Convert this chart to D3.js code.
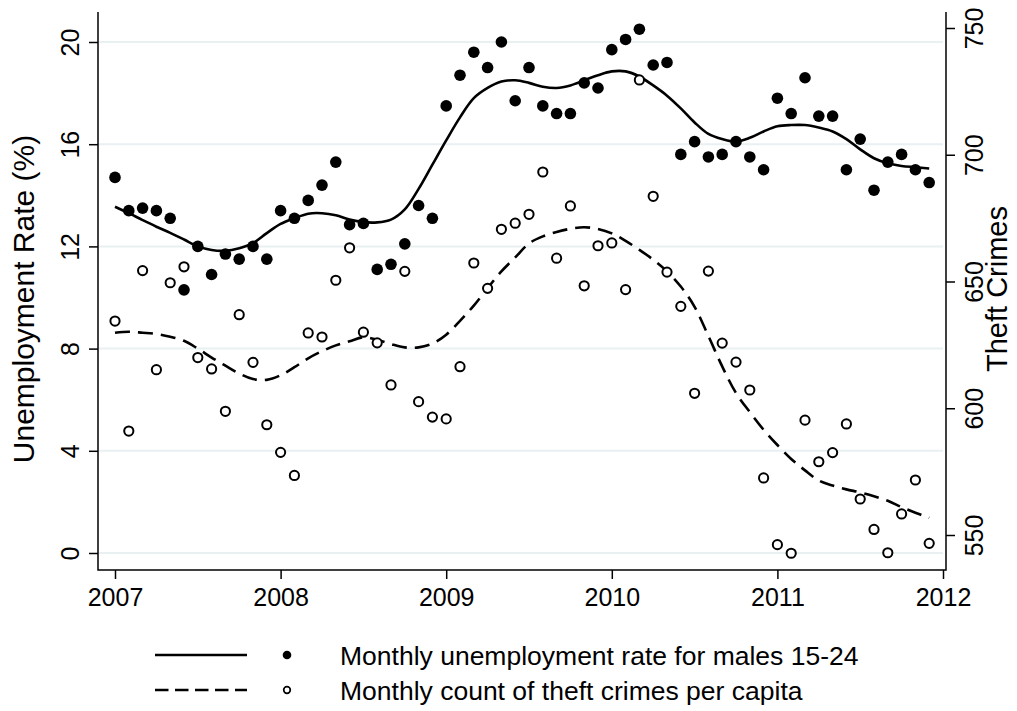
<!DOCTYPE html>
<html>
<head>
<meta charset="utf-8">
<script src="https://cdn.jsdelivr.net/npm/d3@7"></script>
<style>
  body { margin: 0; background: #fff; }
  svg { font-family: 'Liberation Sans', Arial, Helvetica, sans-serif; }
</style>
</head>
<body>
<svg id="chart" width="1017" height="711"></svg>
<script>
// data (monthly, Jan 2007 - Dec 2011)
const years = [2007, 2008, 2009, 2010, 2011]
const xTicks = [2007, 2008, 2009, 2010, 2011, 2012]
const leftTicks = [0, 4, 8, 12, 16, 20]
const rightTicks = [550, 600, 650, 700, 750]

const unempRate = [
  14.7, 13.4, 13.5, 13.4, 13.1, 10.3, 12.0, 10.9, 11.7, 11.5, 12.0, 11.5,
  13.4, 13.1, 13.8, 14.4, 15.3, 12.85, 12.9, 11.1, 11.3, 12.1, 13.6, 13.1,
  17.5, 18.7, 19.6, 19.0, 20.0, 17.7, 19.0, 17.5, 17.2, 17.2, 18.4, 18.2,
  19.7, 20.1, 20.5, 19.1, 19.2, 15.6, 16.1, 15.5, 15.6, 16.1, 15.5, 15.0,
  17.8, 17.2, 18.6, 17.1, 17.1, 15.0, 16.2, 14.2, 15.3, 15.6, 15.0, 14.5
]
const unempSmooth = [
  13.55, 13.3, 13.03, 12.77, 12.53, 12.27, 12.0, 11.86, 11.83, 11.93, 12.13, 12.52,
  12.88, 13.1, 13.28, 13.3, 13.22, 13.05, 12.95, 12.94, 13.05, 13.45, 14.25, 15.2,
  16.15, 17.05, 17.8, 18.2, 18.45, 18.5, 18.4, 18.25, 18.2, 18.3, 18.5, 18.7,
  18.85, 18.85, 18.65, 18.3, 17.9, 17.4, 16.85, 16.4, 16.2, 16.1, 16.25, 16.5,
  16.7, 16.75, 16.75, 16.65, 16.5, 16.2, 15.8, 15.45, 15.25, 15.15, 15.1, 15.05
]
const theftCount = [
  634.4, 591.0, 654.3, 615.2, 649.5, 655.8, 620.0, 615.5, 598.8, 636.9, 618.1, 593.5,
  582.6, 573.5, 629.7, 628.1, 650.5, 663.3, 630.0, 625.8, 609.2, 654.0, 602.6, 596.5,
  595.8, 616.4, 657.3, 647.3, 670.6, 673.0, 676.5, 693.2, 659.2, 679.8, 648.3, 664.1,
  665.2, 646.8, 729.5, 683.6, 653.7, 640.2, 605.9, 654.1, 625.7, 618.2, 607.2, 572.5,
  546.2, 542.8, 595.3, 578.9, 582.5, 593.8, 564.2, 552.2, 543.0, 558.3, 571.7, 546.7
]
const theftSmooth = [
  629.8, 630.2, 629.8, 629.3, 628.2, 626.6, 623.5, 620.0, 616.8, 613.7, 611.5, 611.2,
  613.0, 616.2, 619.7, 622.5, 624.8, 626.4, 628.0, 627.0, 625.3, 624.0, 624.0, 625.5,
  629.0, 634.5, 640.5, 647.4, 654.0, 659.5, 665.0, 667.8, 669.5, 670.8, 671.4, 670.7,
  669.0, 666.0, 662.5, 658.6, 654.0, 648.0, 640.0, 628.5, 616.5, 606.0, 598.5, 591.5,
  585.5, 580.0, 575.5, 571.5, 569.5, 568.0, 566.8, 565.3, 563.5, 561.0, 558.8, 556.8
]

const leftTitle = 'Unemployment Rate (%)'
const rightTitle = 'Theft Crimes'
const legendLabels = [
  'Monthly unemployment rate for males 15-24',
  'Monthly count of theft crimes per capita'
]

// month positions as decimal years
const months = []
years.forEach(y => {
  for (let m = 0; m < 12; m++) months.push(y + m / 12)
})

const frame = { left: 98, right: 946, top: 12, bottom: 570 }
const gridColor = '#e9f0f2'

const xScale = d3.scaleLinear().domain([2007, 2012]).range([115, 943])
const yLeft = d3.scaleLinear().domain([0, 20]).range([553, 42])
const yRight = d3.scaleLinear().domain([550, 750]).range([535, 28])

const svg = d3.select('#chart')

// gridlines
svg.append('g')
  .selectAll('line')
  .data(leftTicks)
  .join('line')
  .attr('x1', frame.left + 1)
  .attr('x2', frame.right - 3)
  .attr('y1', d => yLeft(d))
  .attr('y2', d => yLeft(d))
  .attr('stroke', gridColor)
  .attr('stroke-width', 2)

// smooth lines
const unempLine = d3.line()
  .x((d, i) => xScale(months[i]))
  .y(d => yLeft(d))
  .curve(d3.curveCatmullRom)
const theftLine = d3.line()
  .x((d, i) => xScale(months[i]))
  .y(d => yRight(d))
  .curve(d3.curveCatmullRom)

svg.append('path')
  .datum(unempSmooth)
  .attr('d', unempLine)
  .attr('fill', 'none')
  .attr('stroke', 'black')
  .attr('stroke-width', 2.6)
svg.append('path')
  .datum(theftSmooth)
  .attr('d', theftLine)
  .attr('fill', 'none')
  .attr('stroke', 'black')
  .attr('stroke-width', 2.6)
  .attr('stroke-dasharray', '15,8')

// points
svg.append('g')
  .selectAll('circle')
  .data(theftCount)
  .join('circle')
  .attr('cx', (d, i) => xScale(months[i]))
  .attr('cy', d => yRight(d))
  .attr('r', 4.6)
  .attr('fill', 'white')
  .attr('stroke', 'black')
  .attr('stroke-width', 2)
svg.append('g')
  .selectAll('circle')
  .data(unempRate)
  .join('circle')
  .attr('cx', (d, i) => xScale(months[i]))
  .attr('cy', d => yLeft(d))
  .attr('r', 5.8)
  .attr('fill', 'black')

// axes
const xAxis = d3.axisBottom(xScale)
  .tickValues(xTicks)
  .tickFormat(d3.format('d'))
  .tickSize(9)
  .tickPadding(6)
const leftAxis = d3.axisLeft(yLeft)
  .tickValues(leftTicks)
  .tickSize(9)
const rightAxis = d3.axisRight(yRight)
  .tickValues(rightTicks)
  .tickSize(9)

const gx = svg.append('g')
  .attr('transform', `translate(0, ${frame.bottom})`)
  .call(xAxis)
const gl = svg.append('g')
  .attr('transform', `translate(${frame.left}, 0)`)
  .call(leftAxis)
const gr = svg.append('g')
  .attr('transform', `translate(${frame.right}, 0)`)
  .call(rightAxis)

;[gx, gl, gr].forEach(g => {
  g.select('.domain').remove()
  g.selectAll('.tick line').attr('stroke', 'black').attr('stroke-width', 1.5)
  g.selectAll('.tick text').attr('font-size', 25).attr('fill', 'black')
    .attr('font-family', null)
})
gx.selectAll('.tick text').attr('dy', '0.82em')
gl.selectAll('.tick text')
  .attr('transform', 'rotate(-90)')
  .attr('x', 0)
  .attr('y', -19)
  .attr('dy', 0)
  .attr('text-anchor', 'middle')
gr.selectAll('.tick text')
  .attr('transform', 'rotate(-90)')
  .attr('x', 0)
  .attr('y', 37)
  .attr('dy', 0)
  .attr('text-anchor', 'middle')

// frame lines (axis lines)
svg.append('path')
  .attr('d', `M${frame.left},${frame.top}V${frame.bottom}H${frame.right}V${frame.top}`)
  .attr('fill', 'none')
  .attr('stroke', 'black')
  .attr('stroke-width', 1.5)

// axis titles
svg.append('text')
  .attr('transform', `translate(34, 299) rotate(-90)`)
  .attr('text-anchor', 'middle')
  .attr('font-size', 30)
  .text(leftTitle)
svg.append('text')
  .attr('transform', `translate(1007, 289) rotate(-90)`)
  .attr('text-anchor', 'middle')
  .attr('font-size', 29)
  .text(rightTitle)

// legend
const legend = svg.append('g')
const rows = legendLabels.map((label, i) => ({ label, y: 655 + i * 35, dashed: i === 1 }))
rows.forEach(r => {
  legend.append('line')
    .attr('x1', 155).attr('x2', 247)
    .attr('y1', r.y).attr('y2', r.y)
    .attr('stroke', 'black')
    .attr('stroke-width', 2.6)
    .attr('stroke-dasharray', r.dashed ? '13.5,6.5' : null)
  legend.append('circle')
    .attr('cx', 287).attr('cy', r.y)
    .attr('r', r.dashed ? 3.3 : 4.3)
    .attr('fill', r.dashed ? 'white' : 'black')
    .attr('stroke', 'black')
    .attr('stroke-width', r.dashed ? 1.7 : 0)
  legend.append('text')
    .attr('x', 340).attr('y', r.y + 9.5)
    .attr('font-size', 26.5)
    .text(r.label)
})
</script>
</body>
</html>
